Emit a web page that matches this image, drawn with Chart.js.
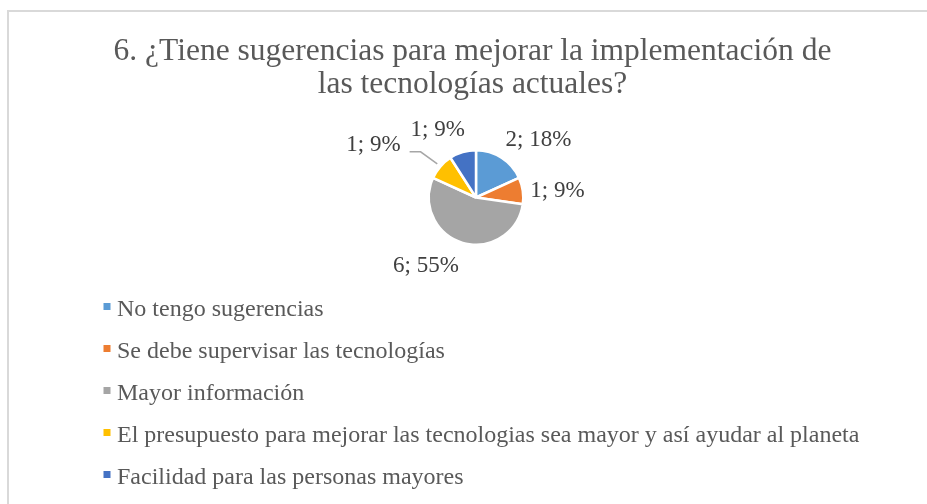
<!DOCTYPE html>
<html>
<head>
<meta charset="utf-8">
<script src="https://cdn.jsdelivr.net/npm/chart.js@4/dist/chart.umd.min.js"></script>
<style>
    html, body { margin: 0; padding: 0; background: #ffffff; }
    #wrap { width: 927px; height: 504px; }
</style>
</head>
<body>
<div id="wrap"><canvas id="pieChart" width="927" height="504"></canvas></div>
<script>
// ---------------- DATA ----------------

const titleLines = [
    "6. ¿Tiene sugerencias para mejorar la implementación de",
    "las tecnologías actuales?"
];

const categories = [
    "No tengo sugerencias",
    "Se debe supervisar las tecnologías",
    "Mayor información",
    "El presupuesto para mejorar las tecnologias sea mayor y así ayudar al planeta",
    "Facilidad para las personas mayores"
];

const counts = [2, 1, 6, 1, 1];

// ---------------- STYLE ----------------

const sliceColors = ["#5B9BD5", "#ED7D31", "#A5A5A5", "#FFC000", "#4472C4"];
const textColor = "#595959";
const serif = "'Liberation Serif', 'Times New Roman', serif";

// label placement around each slice: angle in degrees, distance in radii
const labelSpots = [
    { angle: -42.8, dist: 1.80 },
    { angle: -4.6, dist: 1.73 },
    { angle: 126.1, dist: 1.80 },
    { angle: 207.2, dist: 2.44, leader: true },
    { angle: 240.6, dist: 1.65 }
];

const total = counts.reduce((a, b) => a + b, 0);

const decorPlugin = {
    id: "decor",
    beforeDraw(chart) {
        const ctx = chart.ctx;
        ctx.save();
        // frame
        ctx.fillStyle = "#d9d9d9";
        ctx.fillRect(7, 10, 2, 504);
        ctx.fillRect(7, 10, 927, 2);

        // title
        ctx.fillStyle = textColor;
        ctx.font = "31.5px " + serif;
        ctx.textAlign = "center";
        ctx.textBaseline = "alphabetic";
        ctx.fillText(titleLines[0], 472.5, 60);
        ctx.fillText(titleLines[1], 472.5, 93);
        ctx.restore();
    },
    afterDraw(chart) {
        const ctx = chart.ctx;
        const meta = chart.getDatasetMeta(0);
        ctx.save();

        // data labels
        ctx.font = "23px " + serif;
        ctx.fillStyle = "#404040";
        ctx.textAlign = "center";
        ctx.textBaseline = "middle";
        meta.data.forEach((arc, i) => {
            const spot = labelSpots[i];
            const a = spot.angle * Math.PI / 180;
            const lx = arc.x + Math.cos(a) * arc.outerRadius * spot.dist;
            const ly = arc.y + Math.sin(a) * arc.outerRadius * spot.dist;
            const pct = Math.round(counts[i] / total * 100);
            const txt = counts[i] + "; " + pct + "%";
            ctx.fillText(txt, lx, ly);

            if (spot.leader) {
                const w = ctx.measureText(txt).width;
                const mid = (arc.startAngle + arc.endAngle) / 2;
                const ex = arc.x + Math.cos(mid) * (arc.outerRadius + 4);
                const ey = arc.y + Math.sin(mid) * (arc.outerRadius + 4);
                const sx = lx + w / 2 + 9;
                const sy = ly + 7;
                ctx.beginPath();
                ctx.strokeStyle = "#a6a6a6";
                ctx.lineWidth = 1.5;
                ctx.moveTo(sx, sy);
                ctx.lineTo(sx + 11, sy);
                ctx.lineTo(ex, ey);
                ctx.stroke();
            }
        });

        // legend
        ctx.font = "24px " + serif;
        ctx.textAlign = "left";
        ctx.textBaseline = "alphabetic";
        chart.data.labels.forEach((label, i) => {
            const y = 306.5 + i * 42;
            ctx.fillStyle = sliceColors[i];
            ctx.fillRect(103.5, y - 3.5, 7, 7);
            ctx.fillStyle = textColor;
            ctx.fillText(label, 117, y + 9);
        });

        ctx.restore();
    }
};

new Chart(
    document.getElementById("pieChart"),
    {
        type: "pie",

        data: {
            labels: categories,
            datasets: [{
                data: counts,
                backgroundColor: sliceColors,
                borderColor: "#ffffff",
                borderWidth: 2.5
            }]
        },

        options: {
            responsive: false,
            animation: false,
            layout: {
                padding: { top: 149, bottom: 258, left: 300, right: 275 }
            },
            plugins: {
                legend: { display: false },
                title: { display: false },
                tooltip: { enabled: false }
            }
        },

        plugins: [decorPlugin]
    }
);
</script>
</body>
</html>
